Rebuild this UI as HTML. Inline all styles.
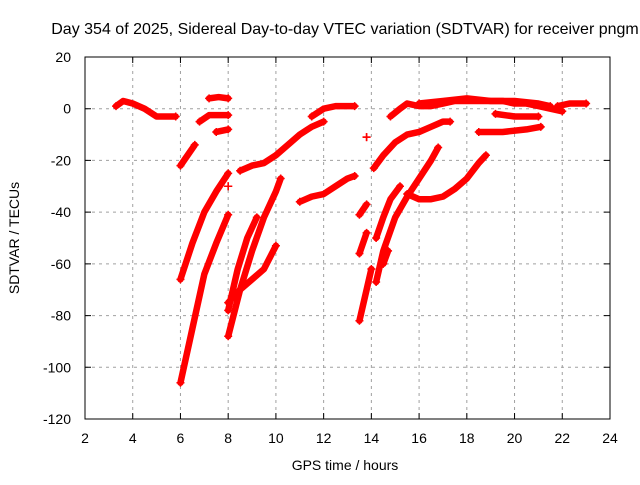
<!DOCTYPE html>
<html><head><meta charset="utf-8"><style>
body{margin:0;background:#fff;}
svg text{font-family:"Liberation Sans",sans-serif;font-size:14px;fill:#000;}
</style></head><body>
<svg width="640" height="480" xmlns="http://www.w3.org/2000/svg">
<rect width="640" height="480" fill="#fff"/>
<g id="grid"></g>
<g id="series"></g>
<rect x="85" y="57" width="525" height="362" fill="none" stroke="#000"/>
<g id="ticks"></g>
<text x="345" y="34" text-anchor="middle" style="font-size:16px">Day 354 of 2025, Sidereal Day-to-day VTEC variation (SDTVAR) for receiver pngm</text>
<text x="345" y="470" text-anchor="middle">GPS time / hours</text>
<text x="0" y="0" transform="translate(19,238) rotate(-90)" text-anchor="middle">SDTVAR / TECUs</text>
</svg>
<script>
const xTicks=[2,4,6,8,10,12,14,16,18,20,22,24];
const yTicks=[20,0,-20,-40,-60,-80,-100,-120];
const seg1=[[3.3,1],[3.6,3],[4,2],[4.5,0],[5,-3],[5.5,-3],[5.8,-3]];
const seg2=[[6,-22],[6.3,-18],[6.6,-14]];
const seg3=[[6.8,-5],[7.2,-2.5],[7.6,-2.5],[8,-2.5]];
const seg4=[[7.2,4],[7.6,4.5],[8,4]];
const seg5=[[7.5,-9],[8,-8]];
const seg6=[[6,-66],[6.5,-52],[7,-40],[7.5,-32],[8,-25]];
const seg7=[[6,-106],[6.5,-85],[7,-64],[7.5,-52],[8,-41]];
const seg8=[[8,-88],[8.5,-70],[9,-55],[9.5,-42],[10,-32],[10.2,-27]];
const seg9=[[8,-75],[8.5,-70],[9,-66],[9.5,-62],[10,-53]];
const seg10=[[8,-78],[8.4,-62],[8.8,-50],[9.2,-42]];
const seg11=[[8.5,-24],[9,-22],[9.5,-21],[10,-18],[10.5,-14],[11,-10],[11.5,-7],[12,-5]];
const seg12=[[11.5,-3],[12,0],[12.5,1],[13,1],[13.3,1]];
const seg13=[[11,-36],[11.5,-34],[12,-33],[12.5,-30],[13,-27],[13.3,-26]];
const seg14=[[13.5,-41],[13.8,-37]];
const seg15=[[13.5,-56],[13.8,-48]];
const seg16=[[13.5,-82],[13.8,-70],[14,-62]];
const seg17=[[14.1,-23],[14.5,-18],[15,-13],[15.5,-10],[16,-9],[16.5,-7],[17,-5],[17.3,-5]];
const seg18=[[14.2,-67],[14.5,-55],[15,-42],[15.5,-34],[16,-27],[16.5,-20],[16.8,-15]];
const seg19=[[14.2,-50],[14.5,-42],[14.8,-35],[15.2,-30]];
const seg20=[[14.5,-60],[14.7,-55]];
const seg21=[[14.8,-3],[15.2,0],[15.5,2],[16,1],[16.5,1],[17,2],[17.5,3],[18,3],[18.5,3],[19,3],[19.5,3],[20,2],[20.5,2],[21,1],[21.5,0],[22,-1]];
const seg22=[[15.5,-33],[16,-35],[16.5,-35],[17,-34],[17.5,-31],[18,-27],[18.5,-21],[18.8,-18]];
const seg23=[[18.5,-9],[19.5,-9],[20.5,-8],[21.1,-7]];
const seg24=[[19.2,-2],[20,-3],[21,-3]];
const seg25=[[16,2],[17,3],[18,4],[19,3],[20,3],[21,2],[21.5,1]];
const seg26=[[21.8,1],[22.3,2],[23,2]];
const seg27=[[8,-30]];
const seg28=[[13.8,-11]];
const segments=[seg1,seg2,seg3,seg4,seg5,seg6,seg7,seg8,seg9,seg10,seg11,seg12,seg13,seg14,seg15,seg16,seg17,seg18,seg19,seg20,seg21,seg22,seg23,seg24,seg25,seg26,seg27,seg28];
const NS="http://www.w3.org/2000/svg";
const X=v=>85+(v-2)*525/22;
const Y=v=>57+(20-v)*362/140;
function mk(t,a){const e=document.createElementNS(NS,t);for(const k in a)e.setAttribute(k,a[k]);return e;}
const grid=document.getElementById('grid'),ticks=document.getElementById('ticks'),ser=document.getElementById('series');
xTicks.forEach(t=>{
 if(t>2&&t<24){const l=mk('line',{x1:X(t),x2:X(t),y1:57,y2:419,stroke:'#a0a0a0','stroke-dasharray':'3,4'});
 
 grid.appendChild(l);}
 const tk=mk('path',{d:`M${X(t)},419v-6M${X(t)},57v6`,stroke:'#000'});
 
 ticks.appendChild(tk);
 const tx=mk('text',{x:X(t),y:443,'text-anchor':'middle'});tx.textContent=t;
 
 ticks.appendChild(tx);
});
yTicks.forEach(t=>{
 if(t<20&&t>-120){const l=mk('line',{x1:85,x2:610,y1:Y(t),y2:Y(t),stroke:'#a0a0a0','stroke-dasharray':'3,4'});
 
 grid.appendChild(l);}
 const tk=mk('path',{d:`M85,${Y(t)}h6M610,${Y(t)}h-6`,stroke:'#000'});
 
 ticks.appendChild(tk);
 const tx=mk('text',{x:71,y:Y(t)+5,'text-anchor':'end'});tx.textContent=t;
 
 ticks.appendChild(tx);
});
segments.forEach(s=>{
 const g=mk('g',{});
 
 
 if(s.length>1){const p=mk('polyline',{points:s.map(q=>X(q[0])+','+Y(q[1])).join(' '),fill:'none',stroke:'#f00','stroke-width':6.5,'stroke-linejoin':'round','stroke-linecap':'round'});
 
 g.appendChild(p);}
 [s[0],s[s.length-1]].forEach(q=>{const m=mk('path',{d:`M${X(q[0])-4},${Y(q[1])}h8M${X(q[0])},${Y(q[1])-4}v8`,stroke:'#f00','stroke-width':1.5});
 
 g.appendChild(m);});
 ser.appendChild(g);
});
</script>
</body></html>
